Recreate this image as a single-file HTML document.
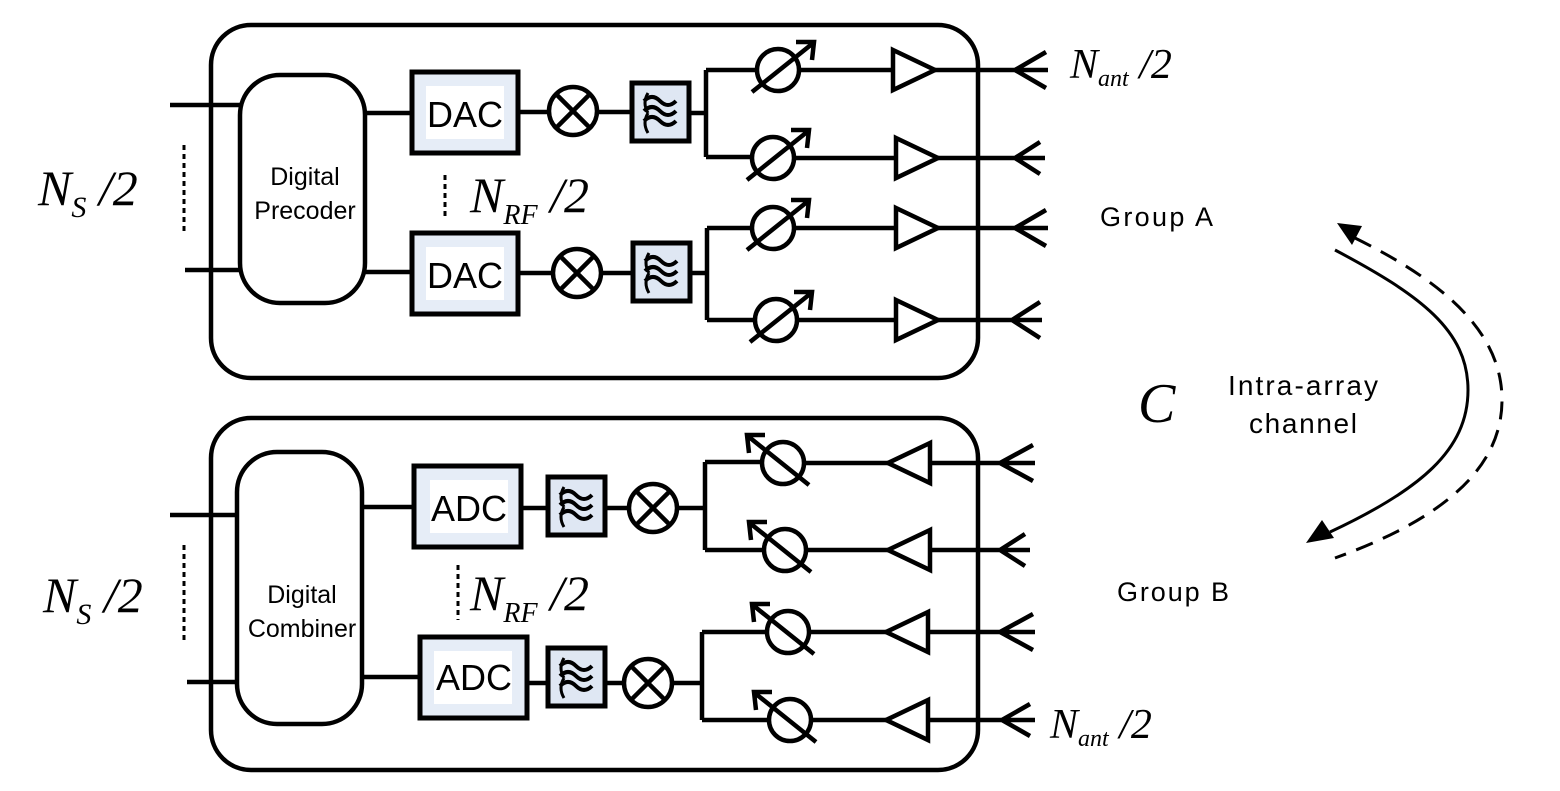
<!DOCTYPE html>
<html><head><meta charset="utf-8"><style>
html,body{margin:0;padding:0;background:#fff;}
svg{display:block;}
.s{font-family:"Liberation Sans","DejaVu Sans",sans-serif;}
.m{font-family:"Liberation Serif",serif;font-style:italic;}
</style></head><body>
<svg width="1560" height="791" viewBox="0 0 1560 791" xmlns="http://www.w3.org/2000/svg" stroke="#000" fill="none" stroke-width="4.5">
<defs>
<g id="filt"><rect x="0" y="0" width="57" height="58" fill="#dfe7f3" stroke-width="5"/>
<path d="M10 20 q8 -8 16 0 t16 0 M10 30 q8 -8 16 0 t16 0 M10 40 q8 -8 16 0 t16 0" stroke-width="4" transform="translate(2,-2)"/>
<path d="M16 10 q-6 10 0 20 M16 30 q-6 10 0 20" stroke-width="3"/></g>
<g id="mix"><circle cx="0" cy="0" r="24"/><path d="M-17 -17 L17 17 M17 -17 L-17 17"/></g>
<g id="psT"><circle cx="0" cy="0" r="21"/><path d="M-26 22 L34 -26 M18 -28 L36 -28 L34 -10"/></g>
<g id="psB"><circle cx="0" cy="0" r="21"/><path d="M26 22 L-34 -26 M-18 -28 L-36 -28 L-34 -10"/></g>
<g id="ampR"><path d="M0 -20 L42 0 L0 20 Z"/></g>
<g id="ampL"><path d="M0 -20 L-42 0 L0 20 Z"/></g>
</defs>

<rect x="211" y="25" width="767" height="353" rx="40"/>
<rect x="211" y="418" width="767" height="352" rx="40"/>

<!-- TOP -->
<rect x="240" y="75" width="125" height="228" rx="40"/>
<text x="305" y="185" class="s" font-size="25" fill="#000" stroke="none" text-anchor="middle">Digital</text>
<text x="305" y="219" class="s" font-size="25" fill="#000" stroke="none" text-anchor="middle">Precoder</text>
<path d="M170 105 H240 M185 270 H240"/>
<path d="M184 145 V235" stroke-width="3" stroke-dasharray="5 4"/>
<text x="38" y="205" class="m" font-size="50" fill="#000" stroke="none">N<tspan font-size="30" dy="12">S</tspan><tspan dy="-12"> /2</tspan></text>
<path d="M365 113 H412 M365 272 H412"/>
<rect x="412" y="72" width="106" height="81" fill="#e6edf7" stroke-width="5"/>
<rect x="426" y="86" width="78" height="53" fill="#fff" stroke="none"/>
<text x="465" y="127" class="s" font-size="36" fill="#000" stroke="none" text-anchor="middle">DAC</text>
<rect x="412" y="233" width="106" height="81" fill="#e6edf7" stroke-width="5"/>
<rect x="426" y="247" width="78" height="53" fill="#fff" stroke="none"/>
<text x="465" y="288" class="s" font-size="36" fill="#000" stroke="none" text-anchor="middle">DAC</text>
<path d="M445 175 V217" stroke-width="3" stroke-dasharray="5 4"/>
<text x="470" y="212" class="m" font-size="50" fill="#000" stroke="none">N<tspan font-size="28" dy="12">RF</tspan><tspan dy="-12"> /2</tspan></text>

<path d="M518 112 H549 M597 112 H632"/>
<use href="#mix" x="573" y="111"/>
<use href="#filt" x="632" y="83"/>
<path d="M689 113 H706 M706 70 V157 M706 70 H758 M706 157 H753"/>
<use href="#psT" x="778" y="70"/>
<use href="#psT" x="773" y="158"/>
<path d="M798 70 H893 M793 158 H896"/>
<use href="#ampR" x="893" y="70"/><use href="#ampR" x="896" y="158"/>
<path d="M935 70 H1048 M1015 70 L1046 52 M1015 70 L1046 88"/>
<path d="M938 158 H1045 M1015 158 L1040 142 M1015 158 L1040 174"/>

<path d="M518 273 H553 M601 273 H633"/>
<use href="#mix" x="577" y="273"/>
<use href="#filt" x="633" y="243"/>
<path d="M690 273 H707 M707 228 V320 M707 228 H753 M707 320 H756"/>
<use href="#psT" x="773" y="228"/>
<use href="#psT" x="776" y="320"/>
<path d="M793 228 H896 M796 320 H896"/>
<use href="#ampR" x="896" y="228"/><use href="#ampR" x="896" y="320"/>
<path d="M938 228 H1048 M1015 228 L1046 210 M1015 228 L1046 246"/>
<path d="M938 320 H1042 M1012 320 L1040 302 M1012 320 L1040 338"/>
<text x="1070" y="78" class="m" font-size="42" fill="#000" stroke="none">N<tspan font-size="24" dy="8">ant</tspan><tspan dy="-8"> /2</tspan></text>

<!-- BOTTOM -->
<rect x="237" y="452" width="125" height="272" rx="40"/>
<text x="302" y="603" class="s" font-size="25" fill="#000" stroke="none" text-anchor="middle">Digital</text>
<text x="302" y="637" class="s" font-size="25" fill="#000" stroke="none" text-anchor="middle">Combiner</text>
<path d="M170 515 H237 M187 682 H237"/>
<path d="M184 545 V640" stroke-width="3" stroke-dasharray="5 4"/>
<text x="43" y="612" class="m" font-size="50" fill="#000" stroke="none">N<tspan font-size="30" dy="12">S</tspan><tspan dy="-12"> /2</tspan></text>
<path d="M362 507 H414 M362 677 H420"/>
<rect x="414" y="466" width="107" height="81" fill="#e6edf7" stroke-width="5"/>
<rect x="430" y="480" width="78" height="53" fill="#fff" stroke="none"/>
<text x="469" y="521" class="s" font-size="36" fill="#000" stroke="none" text-anchor="middle">ADC</text>
<rect x="420" y="637" width="107" height="81" fill="#e6edf7" stroke-width="5"/>
<rect x="434" y="651" width="78" height="53" fill="#fff" stroke="none"/>
<text x="474" y="690" class="s" font-size="36" fill="#000" stroke="none" text-anchor="middle">ADC</text>
<path d="M458 565 V620" stroke-width="3" stroke-dasharray="5 4"/>
<text x="470" y="610" class="m" font-size="50" fill="#000" stroke="none">N<tspan font-size="28" dy="12">RF</tspan><tspan dy="-12"> /2</tspan></text>

<path d="M521 508 H548 M605 508 H629"/>
<use href="#filt" x="548" y="477"/>
<use href="#mix" x="653" y="508"/>
<path d="M677 508 H705 M705 462 V550 M705 462 H763 M705 550 H765"/>
<use href="#psB" x="783" y="463"/>
<use href="#psB" x="785" y="550"/>
<path d="M803 463 H888 M805 550 H888"/>
<use href="#ampL" x="930" y="463"/><use href="#ampL" x="930" y="550"/>
<path d="M930 463 H1035 M1000 463 L1033 445 M1000 463 L1033 481"/>
<path d="M930 550 H1030 M1000 550 L1025 534 M1000 550 L1025 566"/>

<path d="M527 683 H548 M605 683 H624"/>
<use href="#filt" x="548" y="648"/>
<use href="#mix" x="648" y="683"/>
<path d="M672 683 H702 M702 632 V720 M702 632 H768 M702 720 H770"/>
<use href="#psB" x="788" y="632"/>
<use href="#psB" x="790" y="720"/>
<path d="M808 632 H888 M810 720 H888"/>
<use href="#ampL" x="928" y="632"/><use href="#ampL" x="928" y="720"/>
<path d="M928 632 H1035 M1000 632 L1033 614 M1000 632 L1033 650"/>
<path d="M928 720 H1035 M1002 720 L1030 704 M1002 720 L1030 736"/>
<text x="1050" y="738" class="m" font-size="42" fill="#000" stroke="none">N<tspan font-size="24" dy="8">ant</tspan><tspan dy="-8"> /2</tspan></text>

<text x="1100" y="226" class="s" font-size="27" fill="#000" stroke="none" textLength="113">Group A</text>
<text x="1117" y="601" class="s" font-size="27" fill="#000" stroke="none" textLength="112">Group B</text>
<text x="1228" y="395" class="s" font-size="28" fill="#000" stroke="none" textLength="150">Intra-array</text>
<text x="1249" y="433" class="s" font-size="28" fill="#000" stroke="none" textLength="108">channel</text>
<text x="1138" y="422" class="m" font-size="56" fill="#000" stroke="none">C</text>

<path d="M1335 250 C1420 295 1468 330 1468 390 C1468 450 1420 490 1330 532" stroke-width="3"/>
<path d="M1306 543 L1322 520 L1334 538 Z" fill="#000" stroke="none"/>
<path d="M1355 238 C1440 280 1502 330 1502 400 C1502 470 1440 520 1335 558" stroke-width="3" stroke-dasharray="18 11"/>
<path d="M1337 223 L1362 226 L1352 245 Z" fill="#000" stroke="none"/>
</svg>
</body></html>
